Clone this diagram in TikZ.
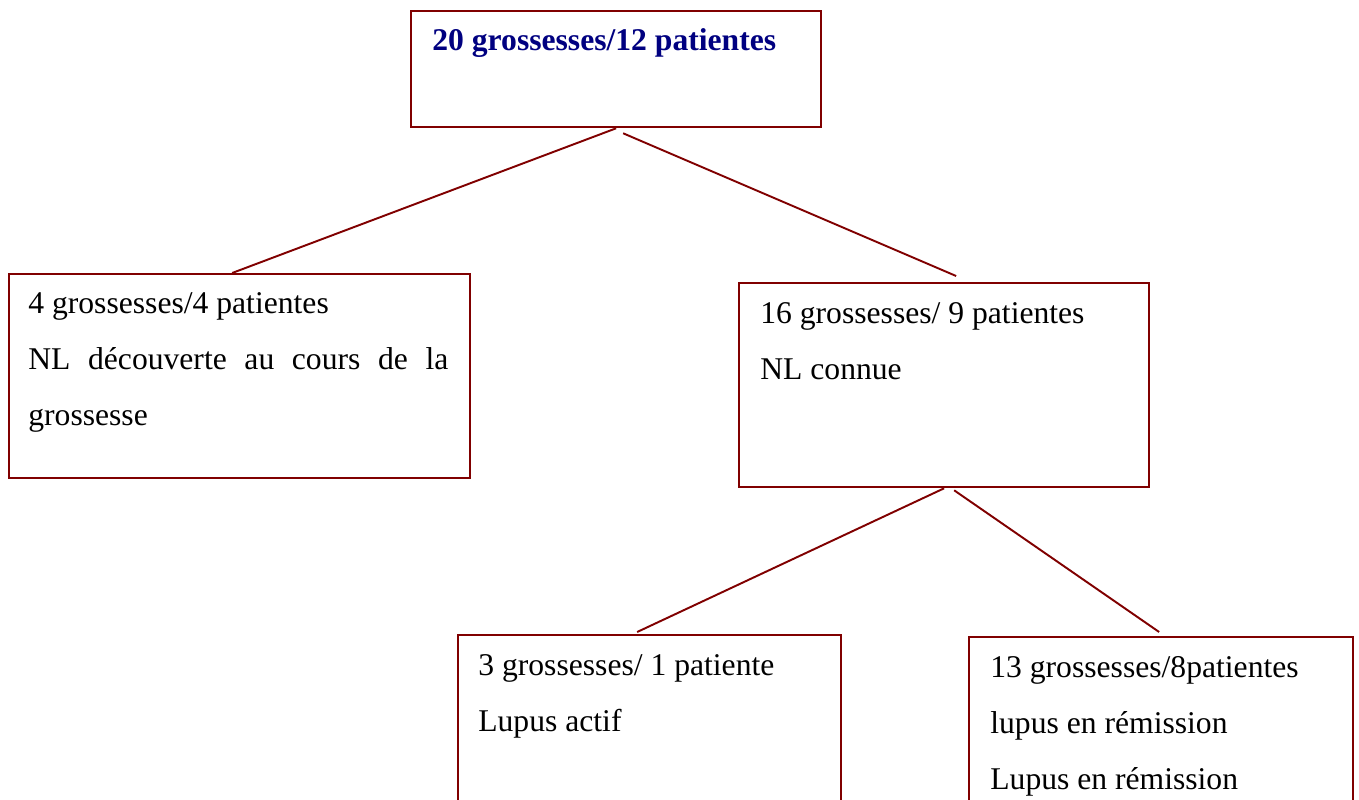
\documentclass[tikz,border=0pt]{standalone}
\usepackage{fontspec}
\setmainfont{Liberation Serif}
\usepackage{xcolor}
\usetikzlibrary{positioning, calc}
\definecolor{rougeTrait}{RGB}{128, 0, 0}
\definecolor{bleuTitre}{RGB}{0, 0, 128}

\begin{document}
\begin{tikzpicture}[
  boite/.style={rectangle, draw=rougeTrait, line width=1.3pt,
    anchor=north west, inner sep=0pt, minimum height=4.08cm},
  texte/.style={anchor=base west, inner sep=0pt, align=flush left,
    text width=7cm, font=\fontsize{18}{32}\selectfont},
  trait/.style={draw=rougeTrait, line width=1.1pt},
]
\useasboundingbox (0,0) rectangle (27.18,-15.98);
\clip (0,0) rectangle (27.18,-15.98);
% les boites
\node[boite, minimum width=8.2cm, minimum height=2.32cm] (total) at (8.2,-0.2) {};
\node[boite, minimum width=9.22cm] (decouv)  at (0.16,-5.46) {};
\node[boite, minimum width=8.2cm]  (connue)  at (14.76,-5.64) {};
\node[boite, minimum width=7.66cm] (actif)   at (9.14,-12.68) {};
\node[boite, minimum width=7.68cm] (remis)   at (19.36,-12.72) {};
% les textes
\node[texte, font=\fontsize{18}{32}\selectfont\bfseries, text=bleuTitre]
  (tTotal) at (8.64,-1.0) {20 grossesses/12 patientes};
\node[texte, text width=8.4cm, align=justify] (tDecouv) at (0.56,-6.26)
  {4 grossesses/4 patientes\\NL découverte au cours de la grossesse};
\node[texte] (tConnue) at (15.2,-6.46) {16 grossesses/ 9 patientes\\NL connue};
\node[texte] (tActif)  at (9.56,-13.5) {3 grossesses/ 1 patiente\\Lupus actif};
\node[texte] (tRemis)  at (19.8,-13.54)
  {13 grossesses/8patientes\\lupus en rémission\\Lupus en rémission};
% les traits
\draw[trait] (total.south) -- ($(decouv.north)+(-0.15,0)$);
\draw[trait] ($(total.south)+(0.14,-0.1)$) -- ($(connue.north)+(0.24,0.12)$);
\draw[trait] (connue.south) -- ($(actif.north)+(-0.25,0.04)$);
\draw[trait] ($(connue.south)+(0.2,-0.04)$) -- ($(remis.north)+(-0.04,0.08)$);
\end{tikzpicture}
\end{document}
